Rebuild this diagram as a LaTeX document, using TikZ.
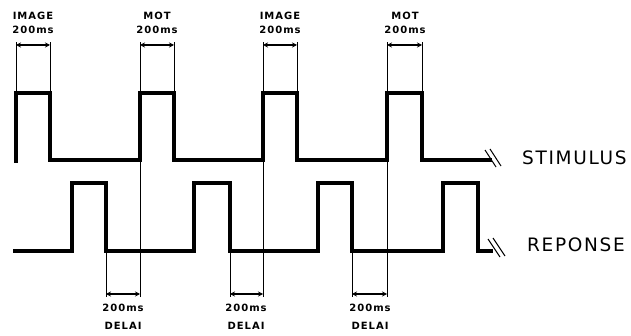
\documentclass[tikz,border=0pt]{standalone}
\usepackage{fontspec}
\newfontfamily\tagfont[LetterSpace=10]{DejaVu Sans}
\newfontfamily\sigfont[LetterSpace=9]{DejaVu Sans}
\usepackage{tikz}
\usetikzlibrary{arrows.meta, positioning}

\begin{document}
\begin{tikzpicture}[x=1pt, y=-1pt, >={Stealth[length=5pt, width=5pt]},
            pulse/.style={line width=4pt, line join=miter},
            guideline/.style={line width=0.8pt},
            dimarrow/.style={<->, line width=1.3pt},
            breakmark/.style={line width=1pt},
            smalltext/.style={font=\tagfont\bfseries\fontsize{10}{11}\selectfont, inner sep=0pt},
            sigtext/.style={font=\sigfont\fontsize{18.5}{20}\selectfont, inner sep=0pt, anchor=west}]

            \useasboundingbox (0,0) rectangle (631,336);

            % rows used by the guides and the arrows
            \coordinate (top) at (0,42);
            \coordinate (arrowrow) at (0,45);
            \coordinate (lowrow) at (0,294);
            \coordinate (bottom) at (0,297);

            % corners of the stimulus pulses (top) and of the response falls (bottom)
            \coordinate (up1) at (16,93);  \coordinate (dn1) at (50,93);
            \coordinate (up2) at (140,93); \coordinate (dn2) at (174,93);
            \coordinate (up3) at (263,93); \coordinate (dn3) at (297,93);
            \coordinate (up4) at (387,93); \coordinate (dn4) at (422,93);
            \coordinate (rdn1) at (106,251);
            \coordinate (rdn2) at (230,251);
            \coordinate (rdn3) at (352,251);

            % signals
            \draw[pulse] (16,163) -- (up1) -- (dn1) -- (50,160) -- (140,160) -- (up2) -- (dn2) -- (174,160)
                -- (263,160) -- (up3) -- (dn3) -- (297,160) -- (387,160) -- (up4) -- (dn4) -- (422,160) -- (492,160);
            \draw[pulse] (13,251) -- (72,251) -- (72,183) -- (106,183) -- (rdn1) -- (194,251) -- (194,183) -- (230,183)
                -- (rdn2) -- (318,251) -- (318,183) -- (352,183) -- (rdn3) -- (443,251) -- (443,183) -- (478,183)
                -- (478,251) -- (493,251);
            \draw[breakmark] (485,150) -- (496,167) (490,149) -- (501,166);
            \draw[breakmark] (488,239) -- (500,257) (493,238) -- (505,256);

            \node[sigtext] (stim) at (522,158) {STIMULUS};
            \node[sigtext] (resp) at (527,245) {REPONSE};

            % durations of the stimuli
            \draw[guideline] (up1) -- (up1 |- top); \draw[guideline] (dn1) -- (dn1 |- top);
            \draw[guideline] (up2 |- bottom) -- (up2 |- top); \draw[guideline] (dn2) -- (dn2 |- top);
            \draw[guideline] (up3 |- bottom) -- (up3 |- top); \draw[guideline] (dn3) -- (dn3 |- top);
            \draw[guideline] (up4 |- bottom) -- (up4 |- top); \draw[guideline] (dn4) -- (dn4 |- top);
            \draw[dimarrow] (up1 |- arrowrow) -- (dn1 |- arrowrow);
            \draw[dimarrow] (up2 |- arrowrow) -- (dn2 |- arrowrow);
            \draw[dimarrow] (up3 |- arrowrow) -- (dn3 |- arrowrow);
            \draw[dimarrow] (up4 |- arrowrow) -- (dn4 |- arrowrow);

            \node[smalltext] (ms1) at (33,30) {200ms};
            \node[smalltext, above=6pt of ms1] (img1) {IMAGE};
            \node[smalltext] (ms2) at (157,30) {200ms};
            \node[smalltext, above=6pt of ms2] (mot1) {MOT};
            \node[smalltext] (ms3) at (280,30) {200ms};
            \node[smalltext, above=6pt of ms3] (img2) {IMAGE};
            \node[smalltext] (ms4) at (405,30) {200ms};
            \node[smalltext, above=6pt of ms4] (mot2) {MOT};

            % delays
            \draw[guideline] (rdn1) -- (rdn1 |- bottom);
            \draw[guideline] (rdn2) -- (rdn2 |- bottom);
            \draw[guideline] (rdn3) -- (rdn3 |- bottom);
            \draw[dimarrow] (rdn1 |- lowrow) -- (up2 |- lowrow);
            \draw[dimarrow] (rdn2 |- lowrow) -- (up3 |- lowrow);
            \draw[dimarrow] (rdn3 |- lowrow) -- (up4 |- lowrow);

            \node[smalltext] (dms1) at (123,308) {200ms};
            \node[smalltext, below=10pt of dms1] (del1) {DELAI};
            \node[smalltext] (dms2) at (246,308) {200ms};
            \node[smalltext, below=10pt of dms2] (del2) {DELAI};
            \node[smalltext] (dms3) at (370,308) {200ms};
            \node[smalltext, below=10pt of dms3] (del3) {DELAI};
\end{tikzpicture}
\end{document}
